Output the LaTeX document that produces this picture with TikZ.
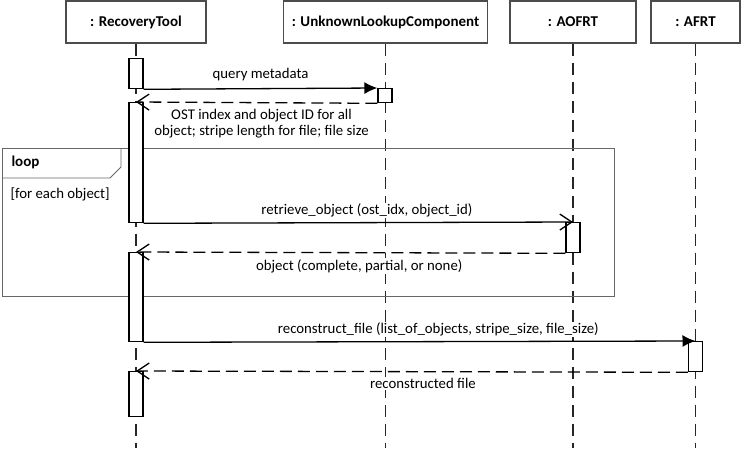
\documentclass[tikz,border=0pt]{standalone}
\usepackage{fontspec}
\setmainfont{Carlito}
\usetikzlibrary{arrows.meta,positioning,calc}

\begin{document}
\begin{tikzpicture}[x=1pt,y=-1pt,
      font=\fontsize{14.8}{16}\selectfont,
      head/.style={draw=black!70,line width=1.2pt,fill=white,minimum height=42pt,
                   inner sep=0pt,font=\fontsize{15}{16}\selectfont\bfseries},
      life/.style={black!85,line width=1.4pt,dash pattern=on 12pt off 7pt},
      actbar/.style={draw,line width=1.3pt,fill=white,minimum width=14pt,
                     inner sep=0pt,anchor=north},
      call/.style={-{Latex[length=13pt,width=12pt]},line width=1.3pt},
      asynccall/.style={-{Straight Barb[length=12pt,width=16pt]},line width=1.3pt},
      reply/.style={-{Straight Barb[length=12pt,width=16pt]},line width=1.3pt,
                    dash pattern=on 12pt off 6pt},
      msg/.style={align=center,inner sep=1pt,fill=white}]
    \useasboundingbox (0,0) rectangle (742,448);
    % lifeline heads
    \node[head,minimum width=140pt] (rt) at (136,22) {: RecoveryTool};
    \node[head,minimum width=204pt] (ulc) at (385.5,22) {: UnknownLookupComponent};
    \node[head,minimum width=126pt] (aofrt) at (573,22) {: AOFRT};
    \node[head,minimum width=89pt] (afrt) at (695.5,22) {: AFRT};
    \coordinate (bot) at (0,448);
    \foreach \o in {rt,ulc,aofrt,afrt}
      \draw[life] (\o.south) -- (\o.south |- bot);
    % loop frame
    \draw[black!60,line width=0.9pt] (2,148) rectangle (614,296);
    \draw[black!60,line width=0.9pt] (2,178) -- (110,178) -- (121,167) -- (121,148);
    \node[anchor=west,font=\fontsize{15}{16}\selectfont\bfseries] (loopname) at (8,162) {loop};
    \node[anchor=west] (guard) at (7,194) {[for each object]};
    % activations
    \node[actbar,minimum height=30pt] (rt1) at (136,58) {};
    \node[actbar,minimum height=14pt] (ulc1) at (385,88) {};
    \node[actbar,minimum height=120pt] (rt2) at (136,102) {};
    \node[actbar,minimum height=30pt] (aofrt1) at (573,222) {};
    \node[actbar,minimum height=89pt] (rt3) at (136,252) {};
    \node[actbar,minimum height=30pt] (afrt1) at (695.5,341) {};
    \node[actbar,minimum height=45pt] (rt4) at (136,371) {};
    % messages
    \draw[call] (rt1.south east) -- node[msg,above=6pt] {query metadata} (ulc1.north west);
    \draw[reply] (ulc1.south west) -- node[msg,below=5pt,pos=0.48]
      {OST index and object ID for all\\object; stripe length for file; file size} (rt2.north);
    \draw[asynccall] (rt2.south east) -- node[msg,above=4pt,pos=0.52]
      {retrieve\_object (ost\_idx, object\_id)} (aofrt1.north);
    \draw[reply] (aofrt1.south west) -- node[msg,below=5pt,pos=0.48]
      {object (complete, partial, or none)} (rt3.north);
    \draw[call] (rt3.south east) -- node[msg,above=4pt,pos=0.534]
      {reconstruct\_file (list\_of\_objects, stripe\_size, file\_size)} (afrt1.north);
    \draw[reply] (afrt1.south west) -- node[msg,below=5pt,pos=0.48]
      {reconstructed file} (rt4.north);
  \end{tikzpicture}
\end{document}
